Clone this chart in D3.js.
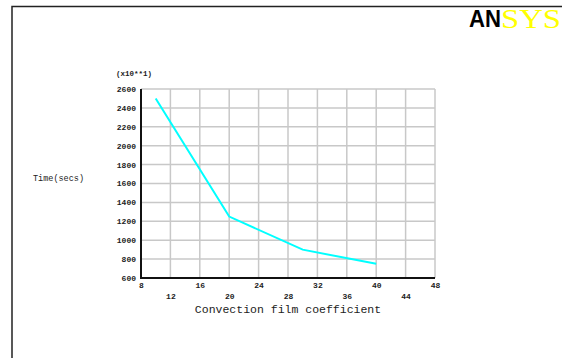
<!DOCTYPE html>
<html>
<head>
<meta charset="utf-8">
<script src="https://cdn.jsdelivr.net/npm/d3@7"></script>
<style>
  body { margin: 0; background: #fff; }
  svg { display: block; }
</style>
</head>
<body>
<div id="chart"></div>
<script>
// data
var filmCoef = [10, 20, 30, 40];
var timeVals = [2500, 1250, 900, 750];
var xTicks = [8, 12, 16, 20, 24, 28, 32, 36, 40, 44, 48];
var yTicks = [600, 800, 1000, 1200, 1400, 1600, 1800, 2000, 2200, 2400, 2600];

var W = 563, H = 358;
var margin = { top: 89, left: 141 }, width = 294, height = 189;

var svg = d3.select("#chart").append("svg")
    .attr("width", W)
    .attr("height", H);

// window frame
svg.append("path")
    .attr("d", "M12," + H + "V6.5H562")
    .attr("fill", "none")
    .attr("stroke", "#222")
    .attr("stroke-width", 1.5);

// ANSYS logo
svg.append("text")
    .attr("x", 469)
    .attr("y", 27)
    .attr("font-family", "Liberation Sans, Arial")
    .attr("font-weight", "bold")
    .attr("font-size", 23)
    .attr("fill", "#000")
    .attr("textLength", 32)
    .attr("lengthAdjust", "spacingAndGlyphs")
    .text("AN");
svg.append("text")
    .attr("x", 501)
    .attr("y", 28)
    .attr("font-family", "Liberation Serif, Times New Roman")
    .attr("font-size", 27)
    .attr("fill", "#ffff00")
    .attr("textLength", 60)
    .attr("lengthAdjust", "spacingAndGlyphs")
    .text("SYS");

var g = svg.append("g")
    .attr("transform", "translate(" + margin.left + "," + margin.top + ")");

var xScale = d3.scaleLinear().domain([8, 48]).range([0, width]);
var yScale = d3.scaleLinear().domain([600, 2600]).range([height, 0]);

// grid
g.selectAll(".vgrid")
    .data(xTicks)
    .enter().append("line")
    .attr("class", "vgrid")
    .attr("x1", function(d) { return xScale(d); })
    .attr("x2", function(d) { return xScale(d); })
    .attr("y1", 0)
    .attr("y2", height)
    .attr("stroke", "#c8c8c8")
    .attr("stroke-width", 1.5);

g.selectAll(".hgrid")
    .data(yTicks)
    .enter().append("line")
    .attr("class", "hgrid")
    .attr("x1", 0)
    .attr("x2", width)
    .attr("y1", function(d) { return yScale(d); })
    .attr("y2", function(d) { return yScale(d); })
    .attr("stroke", "#c8c8c8")
    .attr("stroke-width", 1.5);

// axes
var xAxis = d3.axisBottom(xScale).tickValues(xTicks).tickSize(0).tickFormat(d3.format("d"));
var yAxis = d3.axisLeft(yScale).tickValues(yTicks).tickSize(0).tickPadding(5).tickFormat(d3.format("d"));

var xg = g.append("g")
    .attr("transform", "translate(0," + height + ")")
    .call(xAxis);
xg.select(".domain").remove();
xg.selectAll("text")
    .attr("y", function(d, i) { return i % 2 === 0 ? 10 : 21; })
    .attr("dy", 0);

var yg = g.append("g").call(yAxis);
yg.select(".domain").remove();
yg.selectAll("text").attr("dy", "0.3em");

[xg, yg].forEach(function(a) {
    a.selectAll("text")
        .attr("font-family", "Liberation Mono, Courier New, monospace")
        .attr("font-weight", "bold")
        .attr("font-size", 8)
        .attr("fill", "#222");
});

// black axis lines
g.append("path")
    .attr("d", "M0,0V" + height + "H" + width)
    .attr("fill", "none")
    .attr("stroke", "#111")
    .attr("stroke-width", 2);

// data line
var line = d3.line()
    .x(function(d, i) { return xScale(filmCoef[i]); })
    .y(function(d) { return yScale(d); });

g.append("path")
    .datum(timeVals)
    .attr("d", line)
    .attr("fill", "none")
    .attr("stroke", "#00ffff")
    .attr("stroke-width", 2);

// labels
svg.append("text")
    .attr("x", 116)
    .attr("y", 76)
    .attr("font-family", "Liberation Mono, Courier New, monospace")
    .attr("font-weight", "bold")
    .attr("font-size", 7.5)
    .attr("fill", "#222")
    .text("(x10**1)");

svg.append("text")
    .attr("x", 33)
    .attr("y", 181)
    .attr("font-family", "Liberation Mono, Courier New, monospace")
    .attr("font-size", 8.5)
    .attr("fill", "#222")
    .text("Time(secs)");

svg.append("text")
    .attr("x", xScale(28) + margin.left)
    .attr("y", 313)
    .attr("text-anchor", "middle")
    .attr("font-family", "Liberation Mono, Courier New, monospace")
    .attr("font-size", 11.5)
    .attr("fill", "#222")
    .text("Convection film coefficient");
</script>
</body>
</html>
